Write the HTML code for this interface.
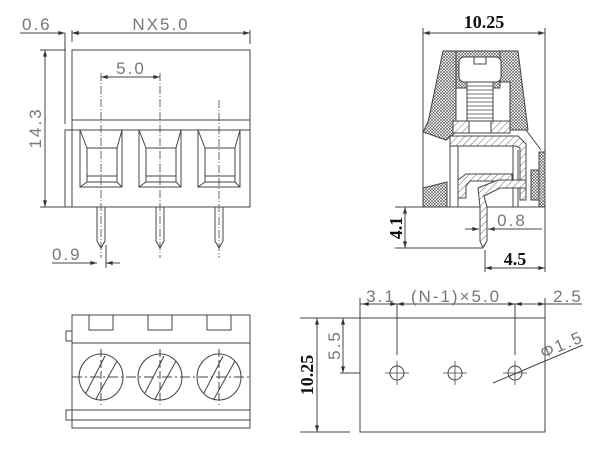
<!DOCTYPE html>
<html><head><style>html,body{margin:0;padding:0;background:#fff}svg{display:block}</style></head><body>
<svg width="600" height="450" viewBox="0 0 600 450" xmlns="http://www.w3.org/2000/svg">
<defs>
<pattern id="x" width="3" height="3" patternUnits="userSpaceOnUse"><rect width="3" height="3" fill="#fff"/><path d="M0,0L3,3M3,0L0,3" stroke="#555" stroke-width="0.6"/></pattern>
<pattern id="d" width="5" height="5" patternUnits="userSpaceOnUse" patternTransform="rotate(45)"><rect width="5" height="5" fill="#fff"/><line x1="0" y1="0" x2="0" y2="5" stroke="#444" stroke-width="0.8"/></pattern>
<marker id="a" viewBox="0 0 10 6" refX="10" refY="3" markerWidth="8" markerHeight="4" orient="auto-start-reverse"><path d="M0,0L10,3L0,6z" fill="#333"/></marker>
</defs>
<g fill="none" stroke="#444" stroke-width="1">
<rect x="72" y="50" width="178" height="80"/>
<line x1="72" y1="120" x2="250" y2="120"/>
<rect x="65" y="130" width="185" height="77"/>
<line x1="72" y1="130" x2="72" y2="207"/>
<line x1="65" y1="33" x2="65" y2="124"/>
<g id="s">
<rect x="80" y="130" width="42" height="57"/>
<rect x="87" y="148" width="30" height="34"/>
<line x1="87" y1="176" x2="117" y2="176"/>
<line x1="80" y1="130" x2="87" y2="148"/><line x1="122" y1="130" x2="117" y2="148"/>
<line x1="80" y1="187" x2="87" y2="182"/><line x1="122" y1="187" x2="117" y2="182"/>
<path d="M97,207V241L101,248L105,241V207"/>
</g>
<use href="#s" x="59"/><use href="#s" x="118"/>
<g stroke-dasharray="8,2,1,2" stroke-width="0.8">
<line x1="101" y1="73" x2="101" y2="258"/><line x1="160" y1="73" x2="160" y2="258"/><line x1="219" y1="100" x2="219" y2="258"/>
</g>
<line x1="72" y1="30" x2="72" y2="42"/><line x1="250" y1="30" x2="250" y2="44"/>
<line x1="72" y1="33" x2="250" y2="33" marker-start="url(#a)" marker-end="url(#a)"/>
<line x1="20" y1="33" x2="65" y2="33" marker-end="url(#a)"/>
<line x1="85" y1="33" x2="72" y2="33" marker-end="url(#a)"/>
<line x1="40" y1="50" x2="66" y2="50"/><line x1="40" y1="207" x2="66" y2="207"/>
<line x1="45" y1="50" x2="45" y2="207" marker-start="url(#a)" marker-end="url(#a)"/>
<line x1="101" y1="77" x2="160" y2="77" marker-start="url(#a)" marker-end="url(#a)"/>
<line x1="52" y1="263" x2="97" y2="263" marker-end="url(#a)"/>
<line x1="120" y1="263" x2="106" y2="263" marker-end="url(#a)"/>
<line x1="106" y1="245" x2="106" y2="268"/>
<line x1="423" y1="28" x2="423" y2="207"/><line x1="545" y1="28" x2="545" y2="272"/>
<line x1="423" y1="33" x2="545" y2="33" marker-start="url(#a)" marker-end="url(#a)"/>
<path d="M443,51H456V132L446,140L423,132L428,122Z" fill="url(#x)"/>
<path d="M500,51H518L528,130H510V82H500Z" fill="url(#x)"/>
<path d="M456,51H500V88H456Z" fill="url(#x)"/>
<rect x="459" y="57" width="42" height="25" rx="5" fill="#fff"/>
<path d="M474,57V64H486V57"/>
<rect x="467" y="82" width="26" height="41" fill="#fff"/>
<path d="M467,86H493M467,90H493M467,94H493M467,98H493M467,102H493M467,106H493M467,110H493M467,114H493M467,118H493" stroke-width="0.7"/>
<rect x="453" y="121" width="16" height="12" fill="url(#d)"/>
<rect x="491" y="121" width="19" height="12" fill="url(#d)"/>
<rect x="469" y="121" width="22" height="12" fill="#fff"/>
<path d="M450,136H518L526,144V200H520V148L516,146H450Z" fill="url(#d)"/>
<path d="M450,146V207M458,146V207M513,146V207M518,150V207"/>
<path d="M423,188L447,182V207H423Z" fill="url(#x)"/>
<path d="M458,180L466,174H512V181H470L466,186V198H458Z" fill="url(#d)"/>
<path d="M526,130L541,150"/>
<path d="M539,152H545V207H539Z" fill="url(#x)"/>
<path d="M531,170H539V200H531Z" fill="url(#x)"/>
<path d="M423,207H545"/>
<path d="M480,207V241L483,248L487,241V207L484,196L500,188H526V180H498L478,188Z" fill="url(#d)"/>
<line x1="395" y1="207" x2="460" y2="207"/>
<line x1="395" y1="248" x2="482" y2="248"/>
<line x1="405" y1="207" x2="405" y2="248" marker-start="url(#a)" marker-end="url(#a)"/>
<line x1="465" y1="229" x2="479" y2="229" marker-end="url(#a)"/>
<line x1="500" y1="229" x2="488" y2="229" marker-end="url(#a)"/>
<line x1="488" y1="229" x2="542" y2="229"/>
<line x1="485" y1="250" x2="485" y2="272"/>
<line x1="485" y1="268" x2="545" y2="268" marker-start="url(#a)" marker-end="url(#a)"/>
<rect x="72" y="315" width="178" height="113"/>
<line x1="72" y1="343" x2="250" y2="343"/>
<line x1="72" y1="410" x2="250" y2="410"/><line x1="72" y1="420" x2="250" y2="420"/>
<path d="M66,331H72V341H66Z"/><path d="M66,410H72V420H66Z"/>
<g id="c">
<path d="M89,315V330H113V315"/>
<ellipse cx="101" cy="377" rx="22" ry="23"/>
<line x1="86" y1="393" x2="105" y2="356"/><line x1="96" y1="399" x2="117" y2="361"/>
<line x1="101" y1="349" x2="101" y2="405" stroke-dasharray="8,3"/>
</g>
<use href="#c" x="59"/><use href="#c" x="118"/>
<line x1="72" y1="377" x2="250" y2="377" stroke-dasharray="10,3,2,3"/>
<rect x="360" y="318" width="185" height="114"/>
<line x1="360" y1="298" x2="360" y2="318"/><line x1="545" y1="298" x2="545" y2="318"/>
<line x1="360" y1="304" x2="582" y2="304"/>
<line x1="362" y1="304" x2="372" y2="304" marker-start="url(#a)"/>
<line x1="397" y1="304" x2="397" y2="355"/><line x1="515" y1="304" x2="515" y2="355"/>
<line x1="385" y1="304" x2="397" y2="304" marker-end="url(#a)"/>
<line x1="409" y1="304" x2="397" y2="304" marker-end="url(#a)"/>
<line x1="503" y1="304" x2="515" y2="304" marker-end="url(#a)"/>
<line x1="527" y1="304" x2="515" y2="304" marker-end="url(#a)"/>
<line x1="533" y1="304" x2="545" y2="304" marker-end="url(#a)"/>
<g id="h"><circle cx="397" cy="373" r="7"/><path d="M385,373H409M397,361V385" stroke-width="0.8"/></g>
<use href="#h" x="58"/><use href="#h" x="118"/>
<line x1="493" y1="383" x2="583" y2="345"/>
<line x1="300" y1="318" x2="360" y2="318"/><line x1="300" y1="432" x2="350" y2="432"/>
<line x1="317" y1="318" x2="317" y2="432" marker-start="url(#a)" marker-end="url(#a)"/>
<line x1="340" y1="373" x2="360" y2="373"/>
<line x1="343" y1="318" x2="343" y2="373" marker-start="url(#a)" marker-end="url(#a)"/>
</g>
<g font-family="Liberation Sans, sans-serif" fill="#777" font-size="17" letter-spacing="2">
<text x="22" y="30">0.6</text>
<text x="161" y="30" text-anchor="middle">NX5.0</text>
<text x="131" y="74" text-anchor="middle">5.0</text>
<text x="52" y="260">0.9</text>
<text transform="translate(41,128) rotate(-90)" text-anchor="middle">14.3</text>
<text x="512" y="226" text-anchor="middle">0.8</text>
<text x="381" y="302" text-anchor="middle">3.1</text>
<text x="456" y="302" text-anchor="middle">(N-1)×5.0</text>
<text x="568" y="302" text-anchor="middle">2.5</text>
<text transform="translate(340,345) rotate(-90)" text-anchor="middle">5.5</text>
<text transform="translate(564,350) rotate(-23)" text-anchor="middle">Φ1.5</text>
</g>
<g font-family="Liberation Serif, serif" font-weight="bold" fill="#111" font-size="18">
<text x="484" y="28" text-anchor="middle">10.25</text>
<text transform="translate(402,228) rotate(-90)" text-anchor="middle">4.1</text>
<text x="515" y="265" text-anchor="middle">4.5</text>
<text transform="translate(313,375) rotate(-90)" text-anchor="middle">10.25</text>
</g>
</svg>
</body></html>
